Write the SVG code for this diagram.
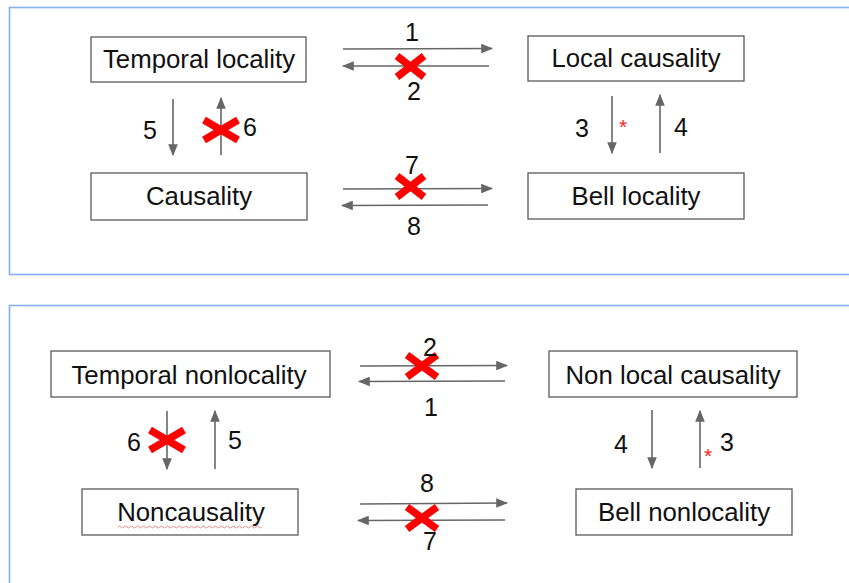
<svg xmlns="http://www.w3.org/2000/svg" width="849" height="583" viewBox="0 0 849 583">
<style>
.panel{fill:#fff;stroke:#86aef2;stroke-width:1.6}
.box{fill:#fff;stroke:#595959;stroke-width:1.3}
.lbl{font-family:"Liberation Sans",Arial,sans-serif;font-size:25.8px;fill:#111;text-anchor:middle}
.num{font-family:"Liberation Sans",Arial,sans-serif;font-size:25px;fill:#111;text-anchor:middle}
.ar{stroke:#666;stroke-width:1.6;fill:none;marker-end:url(#ah)}
.x{stroke:#ff0000;stroke-width:7.5;stroke-linecap:butt}
.star{font-family:"Liberation Sans",Arial,sans-serif;font-size:21px;fill:#ff2020;text-anchor:middle}
</style>
<defs>
<marker id="ah" viewBox="0 0 10 8" refX="9" refY="4" markerWidth="7.5" markerHeight="6" markerUnits="strokeWidth" orient="auto">
<path d="M0,0 L10,4 L0,8 Z" fill="#666"/>
</marker>
</defs>
<rect width="849" height="583" fill="#fff"/>
<rect class="panel" x="9.5" y="7.5" width="850" height="267"/>
<rect class="panel" x="9.5" y="305.5" width="850" height="290"/>

<g id="temporal-locality"><rect class="box" x="91" y="37" width="215" height="45"/><text class="lbl" x="199" y="68">Temporal locality</text></g>
<g id="local-causality"><rect class="box" x="528" y="36" width="216" height="45"/><text class="lbl" x="636" y="67">Local causality</text></g>
<g id="causality"><rect class="box" x="91" y="173" width="216" height="47"/><text class="lbl" x="199" y="205">Causality</text></g>
<g id="bell-locality"><rect class="box" x="528" y="173" width="216" height="46"/><text class="lbl" x="636" y="205">Bell locality</text></g>

<g id="temporal-nonlocality"><rect class="box" x="51" y="351" width="279" height="46"/><text class="lbl" x="189" y="384">Temporal nonlocality</text></g>
<g id="non-local-causality"><rect class="box" x="549" y="351" width="248" height="46"/><text class="lbl" x="673" y="384">Non local causality</text></g>
<g id="noncausality"><rect class="box" x="82" y="489" width="216" height="46"/><text class="lbl" x="191" y="521">Noncausality</text>
<path d="M118,527 q1.5,-2 3,0 t3,0 t3,0 t3,0 t3,0 t3,0 t3,0 t3,0 t3,0 t3,0 t3,0 t3,0 t3,0 t3,0 t3,0 t3,0 t3,0 t3,0 t3,0 t3,0 t3,0 t3,0 t3,0 t3,0 t3,0 t3,0 t3,0 t3,0 t3,0 t3,0 t3,0 t3,0 t3,0 t3,0 t3,0 t3,0 t3,0 t3,0 t3,0 t3,0 t3,0 t3,0 t3,0 t3,0 t3,0 t3,0 t3,0 t3,0" fill="none" stroke="#f08a8a" stroke-width="1"/></g>
<g id="bell-nonlocality"><rect class="box" x="576" y="489" width="216" height="46"/><text class="lbl" x="684" y="521">Bell nonlocality</text></g>

<g id="connectors">
<line class="ar" x1="343" y1="49" x2="492" y2="48.5"/>
<line class="ar" x1="489" y1="66" x2="343" y2="66"/>
<line class="ar" x1="173" y1="99" x2="173" y2="155"/>
<line class="ar" x1="221" y1="155" x2="221" y2="98"/>
<line class="ar" x1="612" y1="96" x2="612" y2="153"/>
<line class="ar" x1="660" y1="153" x2="660" y2="95"/>
<line class="ar" x1="343" y1="189" x2="492" y2="188.5"/>
<line class="ar" x1="488" y1="205" x2="342" y2="205.5"/>

<line class="ar" x1="360" y1="366" x2="507" y2="365.5"/>
<line class="ar" x1="505" y1="381" x2="359" y2="381.5"/>
<line class="ar" x1="167" y1="411" x2="167" y2="469"/>
<line class="ar" x1="215" y1="469" x2="215" y2="411"/>
<line class="ar" x1="652" y1="410" x2="652" y2="468"/>
<line class="ar" x1="700" y1="468" x2="700" y2="411"/>
<line class="ar" x1="360" y1="504" x2="507" y2="503"/>
<line class="ar" x1="505" y1="520" x2="358" y2="520.5"/>
</g>

<g id="crosses">
<path class="x" d="M397,56 L424,77 M397,77 L424,56"/>
<path class="x" d="M204,120 L238,140 M204,140 L238,120"/>
<path class="x" d="M397,176 L424,197 M397,197 L424,176"/>
<path class="x" d="M407,355 L437,377 M407,377 L437,355"/>
<path class="x" d="M150,430 L184,450 M150,450 L184,430"/>
<path class="x" d="M407,507 L437,529 M407,529 L437,507"/>
</g>

<g id="labels">
<text class="num" x="412" y="41">1</text>
<text class="num" x="414" y="100">2</text>
<text class="num" x="150" y="139">5</text>
<text class="num" x="250" y="136">6</text>
<text class="num" x="582" y="137">3</text>
<text class="num" x="681" y="136">4</text>
<text class="num" x="412" y="174">7</text>
<text class="num" x="414" y="235">8</text>
<text class="star" x="623" y="134">*</text>

<text class="num" x="430" y="356">2</text>
<text class="num" x="431" y="416">1</text>
<text class="num" x="134" y="451">6</text>
<text class="num" x="235" y="449">5</text>
<text class="num" x="621" y="453">4</text>
<text class="num" x="727" y="451">3</text>
<text class="num" x="427" y="492">8</text>
<text class="num" x="430" y="550">7</text>
<text class="star" x="708" y="463">*</text>
</g>
</svg>
